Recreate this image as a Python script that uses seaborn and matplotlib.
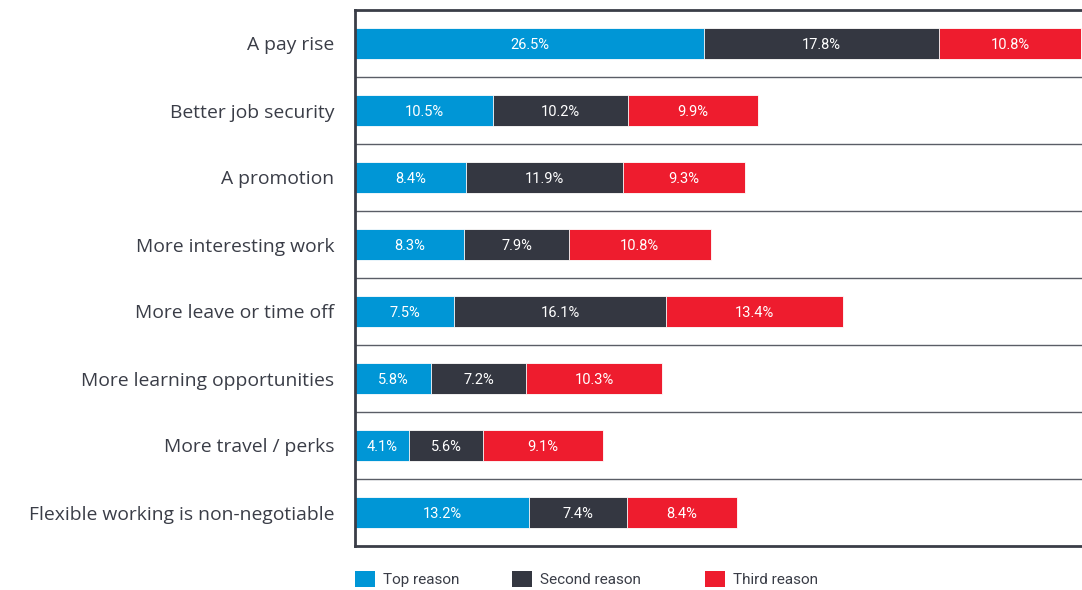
import matplotlib
matplotlib.use("Agg")
import matplotlib.pyplot as plt
import seaborn as sns
import pandas as pd
import numpy as np
from matplotlib.patches import Patch

categories = ["A pay rise", "Better job security", "A promotion", "More interesting work",
              "More leave or time off", "More learning opportunities", "More travel / perks",
              "Flexible working is non-negotiable"]
top_reason = [26.5, 10.5, 8.4, 8.3, 7.5, 5.8, 4.1, 13.2]
second_reason = [17.8, 10.2, 11.9, 7.9, 16.1, 7.2, 5.6, 7.4]
third_reason = [10.8, 9.9, 9.3, 10.8, 13.4, 10.3, 9.1, 8.4]
series_names = ["Top reason", "Second reason", "Third reason"]
colors = ["#0096d6", "#343741", "#ee1c2e"]

df = pd.DataFrame({"category": categories, "top": top_reason,
                   "second": second_reason, "third": third_reason})
df["c1"] = df["top"]
df["c2"] = df["top"] + df["second"]
df["c3"] = df["c2"] + df["third"]

sns.set_theme(style="white")
plt.rcParams["font.family"] = ["Open Sans", "DejaVu Sans"]

fig = plt.figure(figsize=(10.82, 5.90), dpi=100)
ax = fig.add_axes([355 / 1082, 1 - 546 / 590, 1 - 355 / 1082 + 0.01, (546 - 10) / 590])

for col, color in zip(["c3", "c2", "c1"], colors[::-1]):
    sns.barplot(data=df, x=col, y="category", order=categories, color=color,
                orient="h", width=0.47, ax=ax, edgecolor="white", linewidth=0.6,
                saturation=1)

ax.set_xlim(0, 55.2 * 1.0138)
ax.set_ylim(7.5, -0.5)
ax.set_xlabel("")
ax.set_ylabel("")
ax.set_xticks([])
for yy in np.arange(0.5, 7.5, 1.0):
    ax.axhline(yy, color="#5a5d66", linewidth=1.0, zorder=0)

for i in range(len(categories)):
    starts = [0, df["c1"][i], df["c2"][i]]
    vals = [df["top"][i], df["second"][i], df["third"][i]]
    for s, v in zip(starts, vals):
        ax.text(s + v / 2, i + 0.02, f"{v:.1f}%", ha="center", va="center", color="white",
                fontsize=10.5, family=["Roboto", "DejaVu Sans"], zorder=5)

ax.tick_params(axis="y", length=0, pad=15, labelsize=13.9, labelcolor="#3a3d47")
for side in ["left", "top", "bottom"]:
    ax.spines[side].set_visible(True)
    ax.spines[side].set_color("#3a3d47")
    ax.spines[side].set_linewidth(2)
ax.spines["right"].set_visible(False)

legend_x = [355, 512, 705]
for name, color, lx in zip(series_names, colors, legend_x):
    fig.legend([Patch(facecolor=color, edgecolor="none")], [name], loc="center left",
               bbox_to_anchor=(lx / 1082, 1 - 579 / 590), frameon=False, borderpad=0,
               borderaxespad=0, handlelength=1.3, handleheight=1.2, handletextpad=0.55,
               prop={"family": ["Roboto", "DejaVu Sans"], "size": 11},
               labelcolor="#3a3d47")

fig.savefig("out.png", dpi=100)
